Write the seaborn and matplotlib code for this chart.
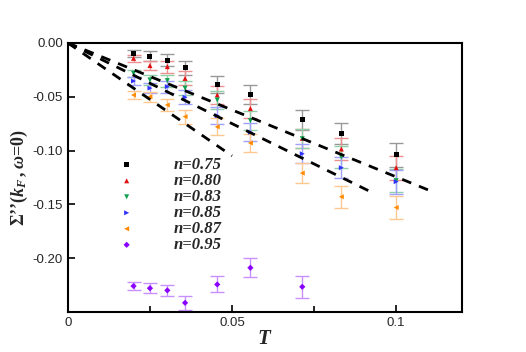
import matplotlib
matplotlib.use("Agg")
import matplotlib.pyplot as plt
import seaborn as sns
import numpy as np
import pandas as pd
from matplotlib.ticker import MultipleLocator

# temperatures (1/beta)
T = [0.02, 0.025, 0.0303, 0.0357, 0.0455, 0.0556, 0.0714, 0.0833, 0.1]

labels = ["n=0.75", "n=0.80", "n=0.83", "n=0.85", "n=0.87", "n=0.95"]
sigma_075 = [-0.010, -0.0124, -0.016, -0.023, -0.0384, -0.048, -0.0716, -0.084, -0.104]
sigma_080 = [-0.0143, -0.021, -0.022, -0.033, -0.0484, -0.061, -0.0887, -0.0986, -0.116]
sigma_083 = [-0.0282, -0.0344, -0.035, -0.042, -0.053, -0.0722, -0.089, -0.106, -0.128]
sigma_085 = [-0.0354, -0.042, -0.0406, -0.0505, -0.0676, -0.083, -0.103, -0.116, -0.129]
sigma_087 = [-0.0484, -0.050, -0.0577, -0.0685, -0.078, -0.093, -0.121, -0.143, -0.153]
sigma_095 = [-0.226, -0.228, -0.230, -0.2416, -0.2245, -0.209, -0.2267]
err_common = [0.0035, 0.0045, 0.0055, 0.0065, 0.008, 0.0085, 0.009, 0.010, 0.011]
err_095 = [0.004, 0.0047, 0.0054, 0.0062, 0.0074, 0.0087, 0.010]

# slopes of the dashed guide lines and their end temperatures
guide_slopes = [-1.245, -1.5, -2.1]
guide_ends = [0.110, 0.092, 0.050]

series = [sigma_075, sigma_080, sigma_083, sigma_085, sigma_087, sigma_095]
errors = [err_common] * 5 + [err_095]
colors = ["black", "#e01010", "#10a050", "#3030ff", "#ff8a00", "#8a00ff"]
err_colors = ["#999999", "#ec9090", "#90d0a8", "#a0a0ff", "#ffc890", "#c890ff"]
markers = ["s", "^", "v", ">", "<", "D"]
sizes = [13, 13, 13, 13, 13, 10]

sns.set_style("ticks")
plt.rcParams["font.family"] = ["Liberation Sans", "DejaVu Sans"]
plt.rcParams["axes.unicode_minus"] = False
plt.rcParams["mathtext.fontset"] = "custom"
plt.rcParams["mathtext.rm"] = "Liberation Serif:bold"
plt.rcParams["mathtext.it"] = "Liberation Serif:italic:bold"
plt.rcParams["mathtext.bf"] = "Liberation Serif:bold"

fig = plt.figure(figsize=(5.26, 3.52), dpi=100)
ax = fig.add_axes([0.129, 0.114, 0.749, 0.764])

for slope, t_end in zip(guide_slopes, guide_ends):
    ts = np.array([0.0, t_end])
    ax.plot(ts, slope * ts, color="black", lw=2.0, ls=(0, (3.5, 3)), zorder=4)

for lab, ys, es, c, ec, m, s in zip(labels, series, errors, colors, err_colors, markers, sizes):
    xs = T[:len(ys)]
    ax.errorbar(xs, ys, yerr=es, fmt="none", ecolor=ec, elinewidth=1.0,
                capsize=5, capthick=1.0, zorder=2)
    df = pd.DataFrame({"T": xs, "S": ys})
    sns.scatterplot(data=df, x="T", y="S", ax=ax, color=c, marker=m,
                    s=s, edgecolor="none", label=lab, zorder=3)

ax.set_xlim(0, 0.12)
ax.set_ylim(-0.25, 0)
ax.xaxis.set_minor_locator(MultipleLocator(0.025))
ax.set_xticks([0, 0.05, 0.1])
ax.set_xticklabels(["0", "0.05", "0.1"])
ax.set_yticks([0, -0.05, -0.10, -0.15, -0.20])
ax.set_yticklabels(["0.00", "-0.05", "-0.10", "-0.15", "-0.20"])
ax.tick_params(which="both", direction="in", top=False, right=False,
               labelsize=9.5, width=1.2, color="black")
ax.tick_params(which="major", length=5)
ax.tick_params(which="minor", length=4)
for sp in ax.spines.values():
    sp.set_linewidth(1.5)
    sp.set_color("black")

ax.set_xlabel(r"$T$", fontsize=15, labelpad=0)
ax.set_ylabel("Σ’’" + r"$(k_F\,,\omega$=0$)$", fontsize=13, labelpad=2,
              family="Liberation Serif", weight="bold")

leg = ax.legend(loc="upper left", bbox_to_anchor=(0.09, 0.60), frameon=False,
                handletextpad=1.8, labelspacing=0.0, borderaxespad=0,
                prop={"family": "Liberation Serif", "weight": "bold",
                      "style": "italic", "size": 12})

fig.savefig("out.png", dpi=100)
